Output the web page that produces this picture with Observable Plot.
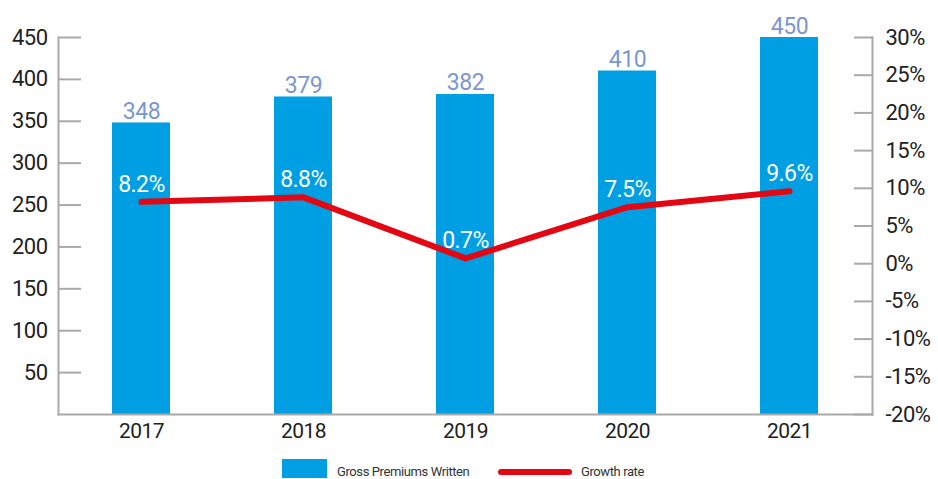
<!DOCTYPE html>
<html>
<head>
<meta charset="utf-8">
<script src="https://cdn.jsdelivr.net/npm/d3@7"></script>
<script src="https://cdn.jsdelivr.net/npm/@observablehq/plot@0.6"></script>
<style>
  html, body { margin: 0; padding: 0; background: #fff; }
  #wrap { position: relative; width: 938px; height: 479px; font-family: "Roboto", sans-serif; }
  #legend { position: absolute; left: 0; top: 450px; width: 938px; height: 29px; }
  .sw { position: absolute; }
  .lt { position: absolute; font-size: 13px; color: #333; line-height: 16px; letter-spacing: -0.4px; }
</style>
</head>
<body>
<div id="wrap">
  <div id="chart"></div>
  <div id="legend">
    <div class="sw" style="left:282px; top:9px; width:45px; height:19px; background:#009fe3;"></div>
    <div class="lt" style="left:337px; top:14px;">Gross Premiums Written</div>
    <div class="sw" style="left:498px; top:19px; width:74px; height:6px; border-radius:3px; background:#e30613;"></div>
    <div class="lt" style="left:581px; top:14px;">Growth rate</div>
  </div>
</div>
<script>
const years = ["2017", "2018", "2019", "2020", "2021"];
const premiums = [348, 379, 382, 410, 450];
const growth = [8.2, 8.8, 0.7, 7.5, 9.6];
const leftTicks = [50, 100, 150, 200, 250, 300, 350, 400, 450];
const rightTicks = [-20, -15, -10, -5, 0, 5, 10, 15, 20, 25, 30];

// map growth (%) onto the premium scale: -20% -> 0, 30% -> 450
const toLeft = g => (g + 20) * 9;

const data = years.map((y, i) => ({year: y, premium: premiums[i], growth: growth[i], gy: toLeft(growth[i])}));

const axisColor = "#a9a9a9";
const font = '"Roboto", sans-serif';

const chart = Plot.plot({
  width: 938,
  height: 450,
  marginLeft: 58,
  marginRight: 66,
  marginTop: 37,
  marginBottom: 36,
  style: {fontFamily: font, background: "#fff", letterSpacing: "-0.5px"},
  x: {domain: years, paddingInner: 0.644, paddingOuter: 0.322},
  y: {domain: [0, 450]},
  marks: [
    Plot.barY(data, {x: "year", y: "premium", fill: "#009fe3"}),
    // left axis
    Plot.axisY(leftTicks, {anchor: "left", tickSize: 23, dx: 23, stroke: axisColor, strokeWidth: 2, text: null, label: null}),
    Plot.axisY(leftTicks, {anchor: "left", tickSize: 0, tickPadding: 11, fontSize: 22, fill: "#222", label: null}),
    // right axis
    Plot.axisY(rightTicks.map(toLeft), {anchor: "right", tickSize: 19, dx: -19, stroke: axisColor, strokeWidth: 2, text: null, label: null}),
    Plot.axisY(rightTicks.map(toLeft), {anchor: "right", tickSize: 0, tickPadding: 13, fontSize: 22, fill: "#222", label: null,
      tickFormat: v => `${Math.round(v / 9 - 20)}%`}),
    // x axis
    Plot.axisX({anchor: "bottom", tickSize: 0, tickPadding: 9, fontSize: 21, fill: "#222", label: null}),
    Plot.frame({anchor: "left", stroke: axisColor, strokeWidth: 2}),
    Plot.frame({anchor: "right", stroke: axisColor, strokeWidth: 2}),
    Plot.frame({anchor: "bottom", stroke: axisColor, strokeWidth: 2}),
    // growth line
    Plot.line(data, {x: "year", y: "gy", stroke: "#e30613", strokeWidth: 6, strokeLinecap: "round", strokeLinejoin: "round"}),
    // labels
    Plot.text(data, {x: "year", y: "premium", text: d => String(d.premium), lineAnchor: "bottom", dy: -4, fontSize: 23, fill: "#7b97cf"}),
    Plot.text(data, {x: "year", y: "gy", text: d => `${d.growth.toFixed(1)}%`, lineAnchor: "bottom", dy: -10, fontSize: 23, fill: "#ffffff"})
  ]
});
document.getElementById("chart").appendChild(chart);
</script>
</body>
</html>
